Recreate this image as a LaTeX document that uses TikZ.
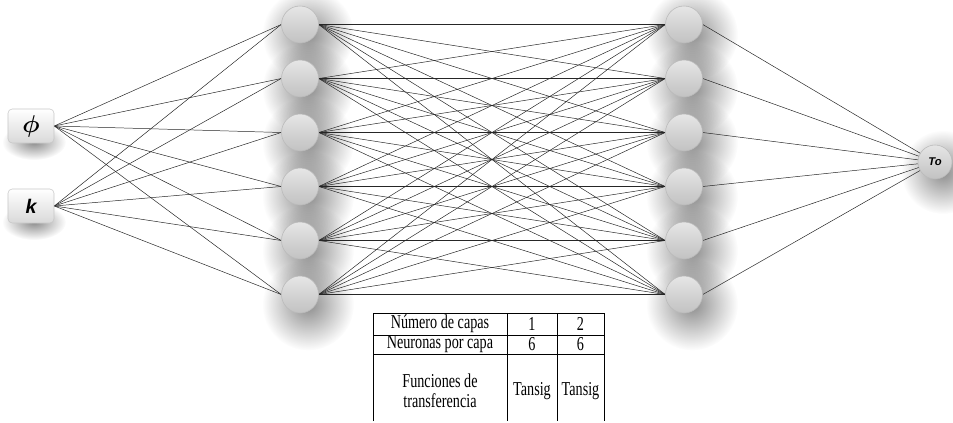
\documentclass[tikz,border=0pt]{standalone}
\usepackage{fontspec}
\setmainfont{Liberation Serif}[FakeStretch=0.72]
\newfontfamily\arialfont{Liberation Sans}
\usetikzlibrary{backgrounds,fadings}
\tikzfading[name=shadowfade, inner color=transparent!0, outer color=transparent!100]

\begin{document}
\begin{tikzpicture}[x=0.025cm, y=-0.025cm,
    neuron/.style={circle, minimum size=0.925cm, inner sep=0pt, draw=black!27, top color=black!10, bottom color=black!24},
    inbox/.style={rectangle, rounded corners=3pt, minimum width=1.15cm, minimum height=0.85cm, inner sep=0pt, draw=black!22, top color=white, bottom color=black!15},
    link/.style={black!85, line width=0.35pt},
    softshadow/.style={fill=black, opacity=0.45, path fading=shadowfade},
    cell/.style={font=\fontsize{14}{14}\selectfont, inner sep=0pt, align=center}]
    \useasboundingbox (0,0) rectangle (953,422);
    % inputs
    \node[inbox, font=\LARGE\boldmath] (phi) at (31,126) {$\phi$};
    \node[inbox, font=\arialfont\bfseries\itshape\fontsize{14}{14}\selectfont] (k) at (31,206) {k};
    % hidden layers
    \foreach \i in {1,...,6} {
        \node[neuron] (a\i) at (300,{24.5+54*(\i-1)}) {};
        \node[neuron] (b\i) at (684,{24.5+54*(\i-1)}) {};
    }
    % output
    \node[neuron, minimum size=0.85cm, font=\arialfont\bfseries\itshape\fontsize{8}{8}\selectfont] (out) at (935,162) {To};
    \begin{scope}[on background layer]
        % shadows
        \fill[softshadow] (phi) ++(3,16) ellipse (32 and 18);
        \fill[softshadow] (k) ++(3,16) ellipse (32 and 18);
        \foreach \i in {1,...,6} {
            \fill[softshadow] (a\i) ++(8,10) circle (46);
            \fill[softshadow] (b\i) ++(8,10) circle (46);
        }
        \fill[softshadow] (out) ++(8,10) circle (42);
        % links
        \foreach \i in {1,...,6} {
            \draw[link] (phi.east) -- (a\i.west);
            \draw[link] (k.east) -- (a\i.west);
            \draw[link] (b\i.east) -- (out.center);
            \foreach \j in {1,...,6}
            \draw[link] (a\i.east) -- (b\j.west);
        }
    \end{scope}
    % table
    \draw[line width=0.5pt] (373,421) -- (373,313) -- (604,313) -- (604,421);
    \draw[line width=0.5pt] (507,313) -- (507,421) (557,313) -- (557,421);
    \draw[line width=0.5pt] (373,335) -- (604,335) (373,354) -- (604,354);
    \node[cell] (t11) at (440,324) {Número de capas};
    \node[cell] (t12) at (532,324) {1};
    \node[cell] (t13) at (580.5,324) {2};
    \node[cell] (t21) at (440,344.5) {Neuronas por capa};
    \node[cell] (t22) at (532,344.5) {6};
    \node[cell] (t23) at (580.5,344.5) {6};
    \node[cell] (t31) at (440,391) {Funciones de\\transferencia};
    \node[cell] (t32) at (532,391) {Tansig};
    \node[cell] (t33) at (580.5,391) {Tansig};
\end{tikzpicture}
\end{document}
